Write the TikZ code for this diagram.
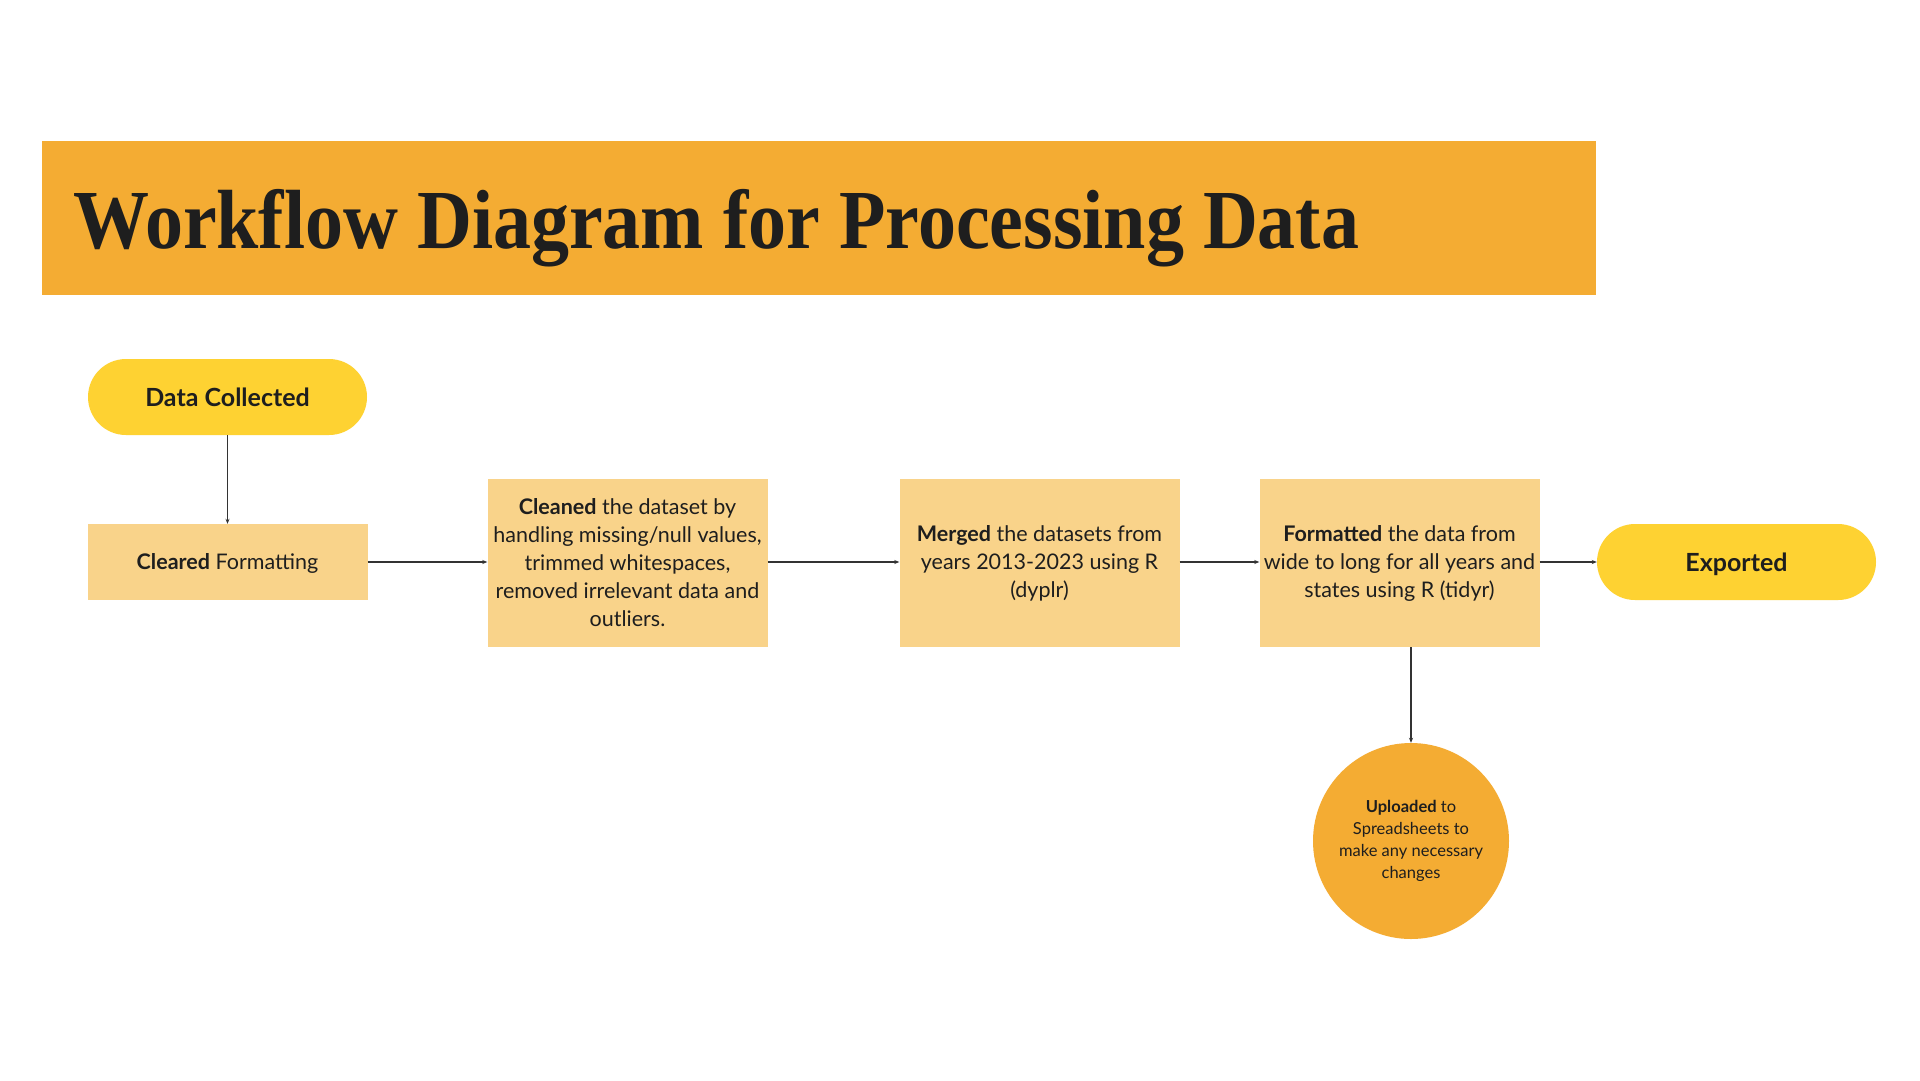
\documentclass[tikz,border=0pt]{standalone}
\usepackage{fontspec}
\setmainfont{Lato}
\newfontfamily\titlefont{Liberation Serif}
\usetikzlibrary{arrows.meta}
\definecolor{banner}{HTML}{F4AC33}
\definecolor{pill}{HTML}{FED232}
\definecolor{boxc}{HTML}{F9D38A}
\definecolor{ink}{HTML}{1E1E1E}
\definecolor{arr}{HTML}{333333}
\begin{document}
\begin{tikzpicture}[x=1pt,y=-1pt,
  pillnode/.style={fill=pill, rounded corners=38pt, minimum width=279pt, minimum height=76pt, inner sep=0pt, text=ink, text depth=0pt, font=\fontsize{25}{28}\selectfont\bfseries},
  stepbox/.style={fill=boxc, minimum width=280pt, minimum height=168pt, inner sep=0pt, text=ink, align=center, font=\fontsize{21.5}{28}\selectfont},
  circnode/.style={circle, fill=banner, minimum size=196pt, inner sep=0pt, text=ink, align=center, font=\fontsize{16.5}{22}\selectfont},
  conn/.style={draw=arr, line width=1.2pt, -{Stealth[length=5pt,width=4pt]}}
]
\useasboundingbox[fill=white] (0,0) rectangle (1920,1080);
% banner
\fill[banner] (42,141) rectangle (1596,295);
\node[anchor=base west, inner sep=0pt, text=ink] (title) at (73,248)
  {\resizebox{1286pt}{\height}{\titlefont\fontsize{84}{90}\selectfont\bfseries Workflow Diagram for Processing Data}};
% nodes
\node[pillnode] (dc) at (227.5,397) {Data Collected};
\node[stepbox, minimum height=76pt, text depth=0pt] (cf) at (227.5,562) {\textbf{Cleared} Formatting};
\node[stepbox] (cl) at (627.5,563) {\textbf{Cleaned} the dataset by\\handling missing/null values,\\trimmed whitespaces,\\removed irrelevant data and\\outliers.};
\node[stepbox] (mg) at (1039.5,563) {\textbf{Merged} the datasets from\\years 2013-2023 using R\\(dyplr)};
\node[stepbox] (fm) at (1399.5,563) {\textbf{Formatted} the data from\\wide to long for all years and\\states using R (tidyr)};
\node[pillnode] (ex) at (1736.5,562) {Exported};
\node[circnode] (up) at (1411,841) {\textbf{Uploaded} to\\Spreadsheets to\\make any necessary\\changes};
% connectors
\draw[conn] (dc.south) -- (cf.north);
\draw[conn] (cf.east) -- (cl.west |- cf.east);
\draw[conn] (cl.east |- cf.east) -- (mg.west |- cf.east);
\draw[conn] (mg.east |- cf.east) -- (fm.west |- cf.east);
\draw[conn] (fm.east |- cf.east) -- (ex.west);
\draw[conn] (up.north |- fm.south) -- (up.north);
\end{tikzpicture}
\end{document}
